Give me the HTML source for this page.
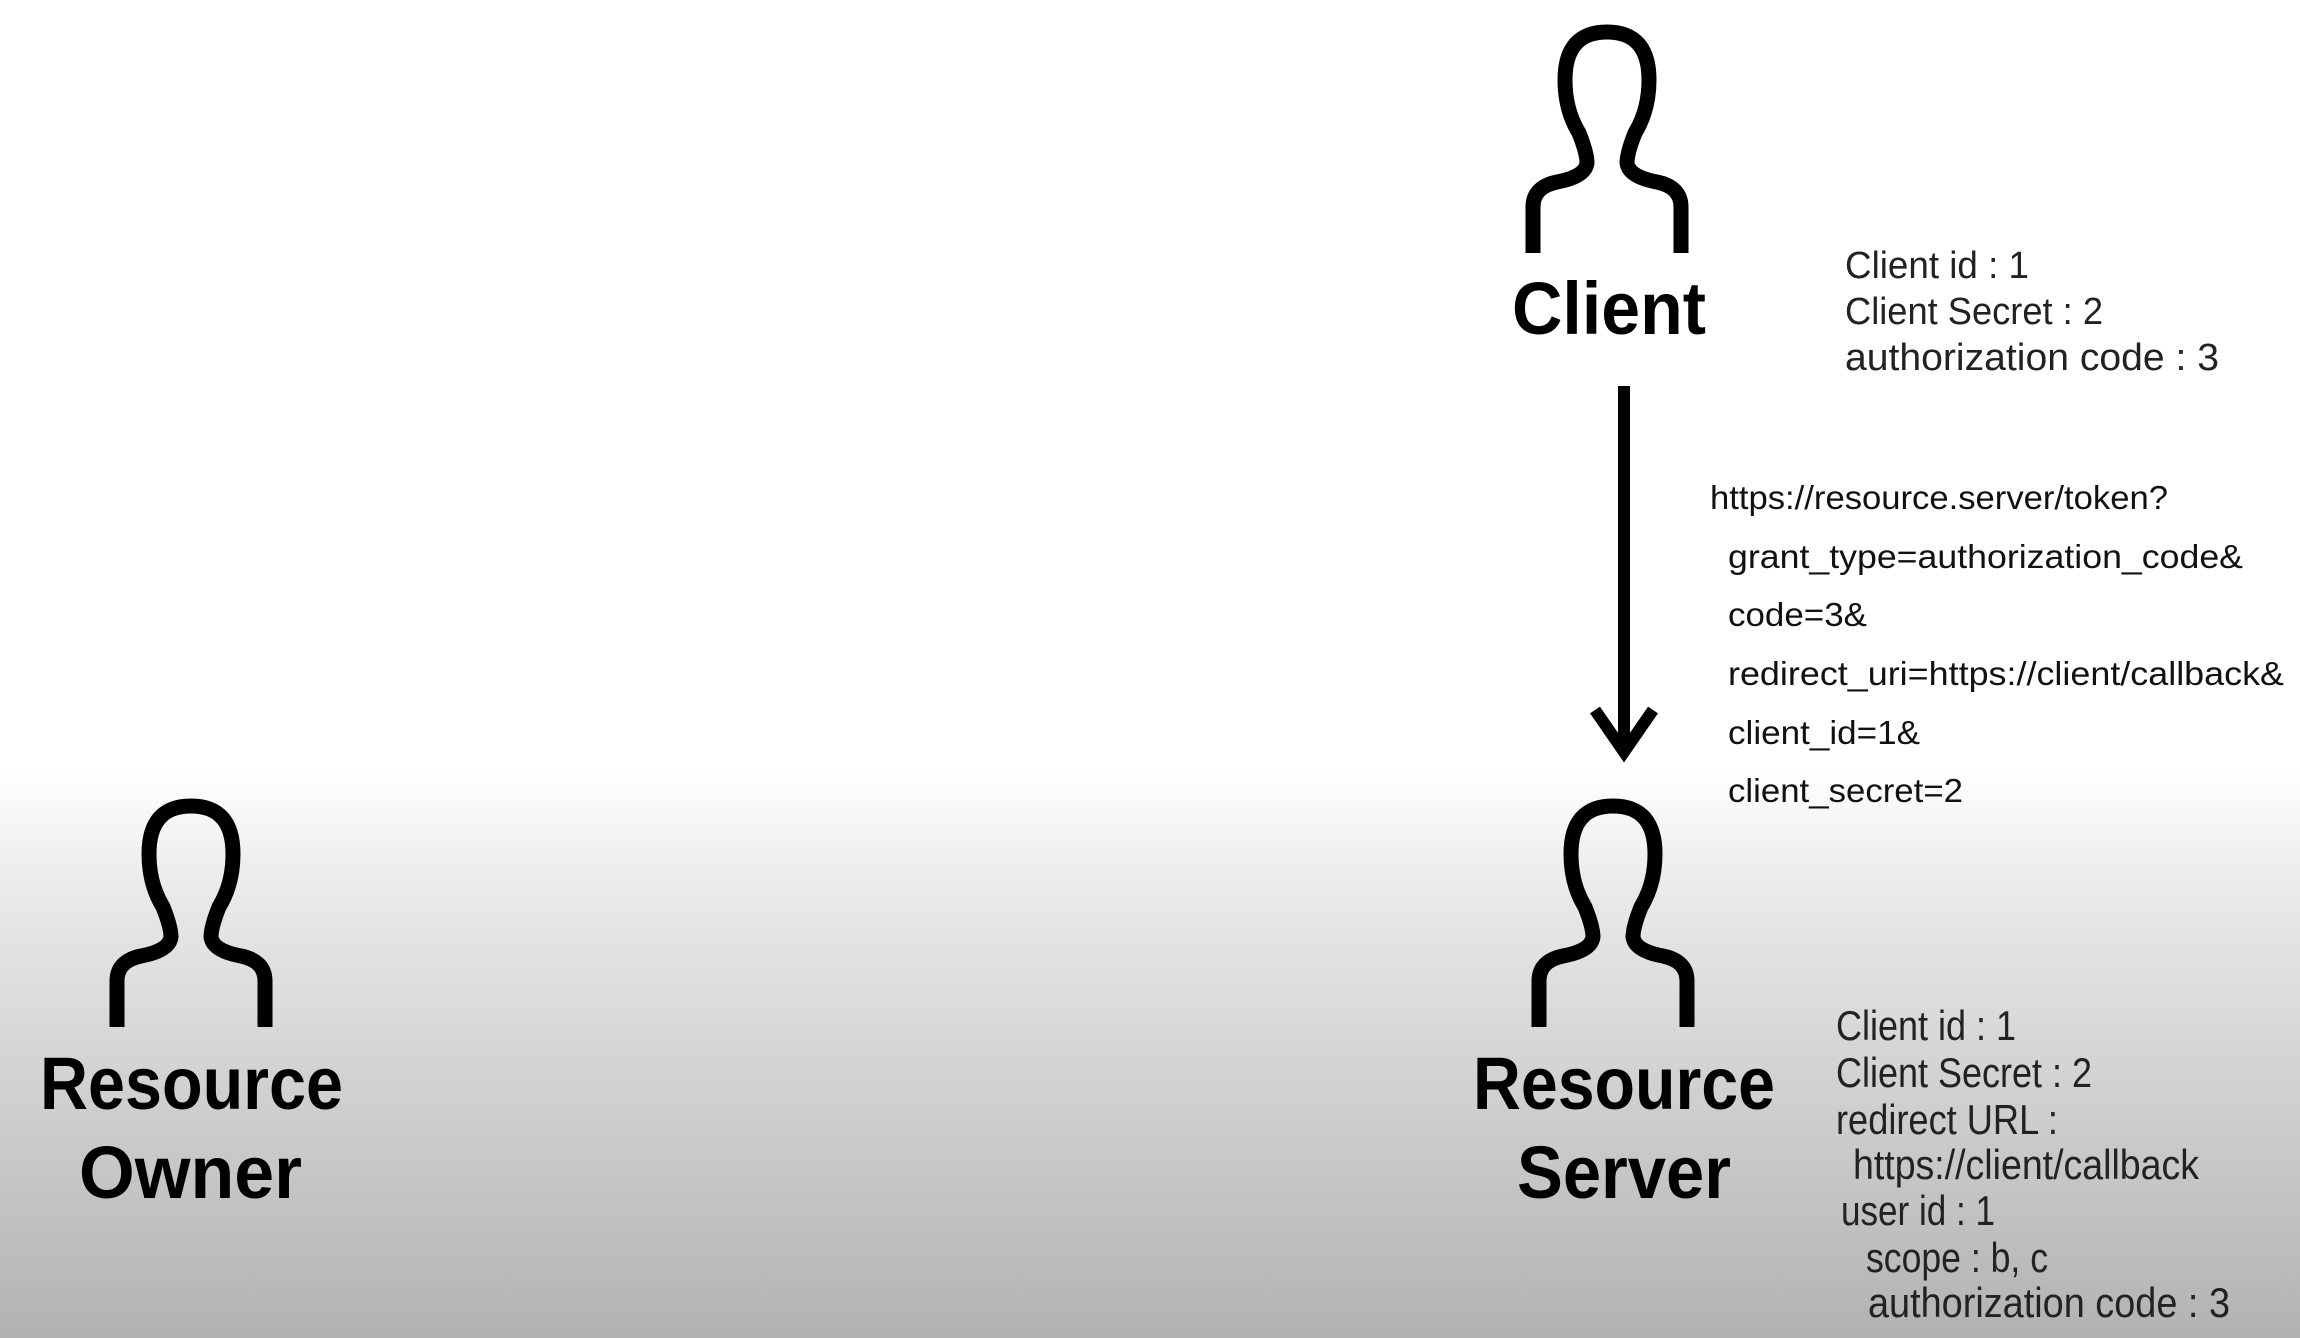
<!DOCTYPE html>
<html><head><style>
html,body{margin:0;padding:0;}
body{width:2300px;height:1338px;overflow:hidden;background:linear-gradient(to bottom,#fff 0px,#fff 770px,#e8e8e8 900px,#b2b2b2 1338px);}
svg{position:absolute;left:0;top:0;}
.b{font-family:"Liberation Sans",sans-serif;font-weight:bold;font-size:74px;fill:#000;}
.t{font-family:"Liberation Sans",sans-serif;font-size:38px;fill:#222;}
.s{font-family:"Liberation Sans",sans-serif;font-size:42px;fill:#222;}
.u{font-family:"Liberation Sans",sans-serif;font-size:33px;fill:#111;}
</style></head><body>
<svg width="2300" height="1338" viewBox="0 0 2300 1338">
<defs>
<path id="p" d="M -74 228 L -74 182 Q -74 162 -50 157 Q -22 152 -20 138 Q -20 128 -28 108 Q -42 85 -42 55 Q -42 7 0 7 Q 42 7 42 55 Q 42 85 28 108 Q 20 128 20 138 Q 22 152 50 157 Q 74 162 74 182 L 74 228" fill="none" stroke="#000" stroke-width="15"/>
</defs>
<use href="#p" transform="translate(1607,25)"/>
<use href="#p" transform="translate(1613,799)"/>
<use href="#p" transform="translate(191,799)"/>
<line x1="1624" y1="386" x2="1624" y2="752" stroke="#000" stroke-width="12"/>
<polyline points="1595,710 1624,752 1653,710" fill="none" stroke="#000" stroke-width="12"/>

<text class="b" x="1512" y="334" textLength="194" lengthAdjust="spacingAndGlyphs">Client</text>
<text class="b" x="1473" y="1109" textLength="302" lengthAdjust="spacingAndGlyphs">Resource</text>
<text class="b" x="1517" y="1198" textLength="214" lengthAdjust="spacingAndGlyphs">Server</text>
<text class="b" x="40" y="1109" textLength="303" lengthAdjust="spacingAndGlyphs">Resource</text>
<text class="b" x="79" y="1198" textLength="223" lengthAdjust="spacingAndGlyphs">Owner</text>

<text class="t" x="1845" y="278" textLength="184" lengthAdjust="spacingAndGlyphs">Client id : 1</text>
<text class="t" x="1845" y="324" textLength="258" lengthAdjust="spacingAndGlyphs">Client Secret : 2</text>
<text class="t" x="1845" y="370" textLength="374" lengthAdjust="spacingAndGlyphs">authorization code : 3</text>

<text class="u" x="1710" y="509" textLength="458" lengthAdjust="spacingAndGlyphs">https://resource.server/token?</text>
<text class="u" x="1728" y="568" textLength="515" lengthAdjust="spacingAndGlyphs">grant_type=authorization_code&amp;</text>
<text class="u" x="1728" y="626" textLength="139" lengthAdjust="spacingAndGlyphs">code=3&amp;</text>
<text class="u" x="1728" y="685" textLength="556" lengthAdjust="spacingAndGlyphs">redirect_uri=https://client/callback&amp;</text>
<text class="u" x="1728" y="744" textLength="192" lengthAdjust="spacingAndGlyphs">client_id=1&amp;</text>
<text class="u" x="1728" y="802" textLength="235" lengthAdjust="spacingAndGlyphs">client_secret=2</text>

<text class="s" x="1836" y="1040" textLength="180" lengthAdjust="spacingAndGlyphs">Client id : 1</text>
<text class="s" x="1836" y="1087" textLength="256" lengthAdjust="spacingAndGlyphs">Client Secret : 2</text>
<text class="s" x="1836" y="1134" textLength="222" lengthAdjust="spacingAndGlyphs">redirect URL :</text>
<text class="s" x="1853" y="1179" textLength="346" lengthAdjust="spacingAndGlyphs">https://client/callback</text>
<text class="s" x="1841" y="1225" textLength="154" lengthAdjust="spacingAndGlyphs">user id : 1</text>
<text class="s" x="1866" y="1272" textLength="182" lengthAdjust="spacingAndGlyphs">scope : b, c</text>
<text class="s" x="1868" y="1317" textLength="362" lengthAdjust="spacingAndGlyphs">authorization code : 3</text>
</svg>
</body></html>
